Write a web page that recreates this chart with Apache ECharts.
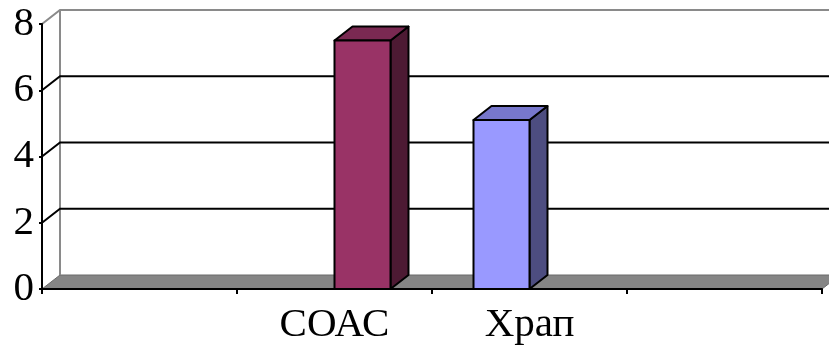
<!DOCTYPE html>
<html>
<head>
<meta charset="utf-8">
<script src="https://cdn.jsdelivr.net/npm/echarts@6/dist/echarts.min.js"></script>
<style>
  html, body { margin: 0; padding: 0; background: #ffffff; }
  #chart { width: 829px; height: 350px; }
</style>
</head>
<body>
<div id="chart"></div>
<script>
// Categories along the floor (outer two slots are empty)
const categories = ['', 'СОАС', 'Храп', ''];
// Two series, each with a single value in its own category
const series1Values = [null, null, 5.1, null];   // periwinkle
const series2Values = [null, 7.5, null, null];   // plum
// Value axis ticks
const yTicks = [0, 2, 4, 6, 8];

// Depth of the pseudo-3D box (screen offset of the back plane)
const DX = 18, DY = -14;
const BAR_FRACTION = 56 / 195;

const chart = echarts.init(document.getElementById('chart'), null, { renderer: 'canvas' });

// Back wall, floor and grid lines, drawn from the value axis
function renderWalls(params, api) {
  const cs = params.coordSys;
  const left = cs.x, right = cs.x + cs.width;
  const v = api.value(0);
  const y = api.coord([0, v])[1];
  const children = [];
  if (v === 0) {
    const yTop = api.coord([0, yTicks[yTicks.length - 1]])[1];
    children.push({
      type: 'polygon',
      shape: { points: [[left, y], [right, y], [right + DX, y + DY], [left + DX, y + DY]] },
      style: { fill: '#858585', stroke: '#6a6a6a', lineWidth: 1 }
    });
    children.push({
      type: 'line',
      shape: { x1: left + DX, y1: y + DY, x2: left + DX, y2: yTop + DY },
      style: { stroke: '#8a8a8a', lineWidth: 2 }
    });
  } else {
    const top = v === yTicks[yTicks.length - 1];
    const col = top ? '#8a8a8a' : '#000000';
    children.push({
      type: 'polyline',
      shape: { points: [[left, y], [left + DX, y + DY], [right + DX, y + DY]] },
      style: { stroke: col, lineWidth: 2, fill: null }
    });
  }
  return { type: 'group', children: children };
}

// Cuboid bars: front, top and side faces
function makeBarRenderer(slot, front, topCol, sideCol) {
  return function (params, api) {
    const idx = api.value(0);
    const val = api.value(1);
    if (val == null || isNaN(val)) return null;
    const catW = api.size([1, 0])[0];
    const w = catW * BAR_FRACTION;
    const c = api.coord([idx, val]);
    const base = api.coord([idx, 0])[1];
    const x0 = c[0] + slot * w;
    const yT = c[1];
    const stroke = { stroke: '#000', lineWidth: 2, lineJoin: 'round' };
    return {
      type: 'group',
      children: [
        { type: 'polygon', shape: { points: [[x0 + w, yT], [x0 + w + DX, yT + DY], [x0 + w + DX, base + DY], [x0 + w, base]] },
          style: Object.assign({ fill: sideCol }, stroke) },
        { type: 'polygon', shape: { points: [[x0, yT], [x0 + w, yT], [x0 + w + DX, yT + DY], [x0 + DX, yT + DY]] },
          style: Object.assign({ fill: topCol }, stroke) },
        { type: 'rect', shape: { x: x0, y: yT, width: w, height: base - yT },
          style: Object.assign({ fill: front }, stroke) }
      ]
    };
  };
}

const font = "'Liberation Serif', 'Times New Roman', serif";

chart.setOption({
  animation: false,
  grid: { left: 42, right: 7, top: 24, bottom: 61, containLabel: false },
  xAxis: {
    type: 'category',
    data: categories,
    z: 5,
    axisLine: { lineStyle: { color: '#000', width: 2 } },
    axisTick: { show: true, length: 5, lineStyle: { color: '#000', width: 2 } },
    axisLabel: { fontSize: 41, fontFamily: font, color: '#000', margin: 16 },
    splitLine: { show: false }
  },
  yAxis: {
    type: 'value',
    min: 0, max: 8, interval: 2,
    z: 5,
    axisLine: { show: true, lineStyle: { color: '#000', width: 2 } },
    axisTick: { show: true, length: 3, lineStyle: { color: '#000', width: 2 } },
    axisLabel: { fontSize: 41, fontFamily: font, color: '#000', margin: 8 },
    splitLine: { show: false }
  },
  series: [
    {
      type: 'custom', name: 'walls', clip: false, z: 1,
      data: yTicks.map(function (v) { return [v]; }),
      encode: { y: 0 },
      renderItem: renderWalls
    },
    {
      type: 'custom', name: 'Храп', clip: false, z: 3,
      data: series1Values.map(function (v, i) { return [i, v]; }),
      encode: { x: 0, y: 1 },
      renderItem: makeBarRenderer(-1, '#9999ff', '#7777cc', '#4d4d80')
    },
    {
      type: 'custom', name: 'СОАС', clip: false, z: 3,
      data: series2Values.map(function (v, i) { return [i, v]; }),
      encode: { x: 0, y: 1 },
      renderItem: makeBarRenderer(0, '#993366', '#7a2952', '#4d1a33')
    }
  ]
});
</script>
</body>
</html>
